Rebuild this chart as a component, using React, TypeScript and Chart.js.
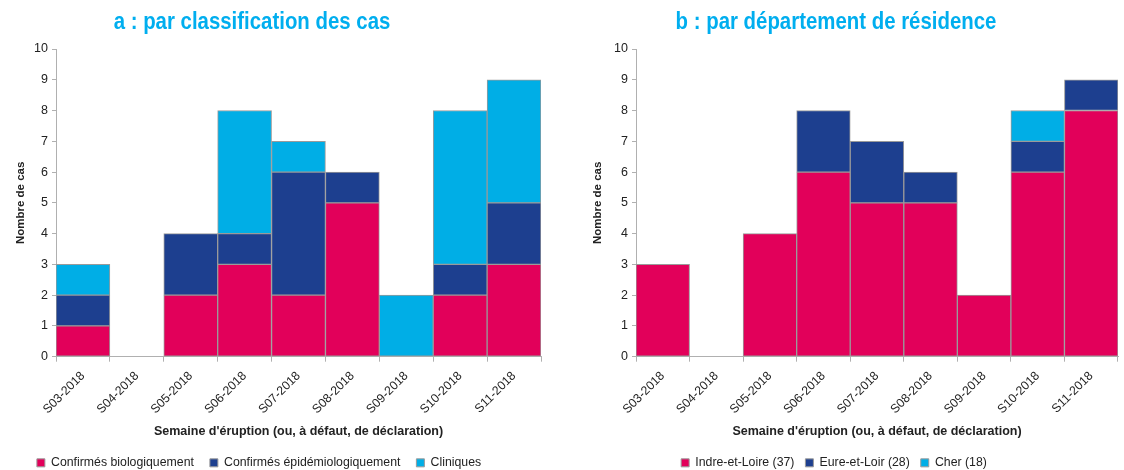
import React, { useEffect, useRef } from "react";
import { Chart, registerables } from "chart.js";

Chart.register(...registerables);

const weeks = ["S03-2018", "S04-2018", "S05-2018", "S06-2018", "S07-2018", "S08-2018", "S09-2018", "S10-2018", "S11-2018"];

const confBio = [1, 0, 2, 3, 2, 5, 0, 2, 3];
const confEpi = [1, 0, 2, 1, 4, 1, 0, 1, 2];
const cliniques = [1, 0, 0, 4, 1, 0, 2, 5, 4];

const indre = [3, 0, 4, 6, 5, 5, 2, 6, 8];
const eure = [0, 0, 0, 2, 2, 1, 0, 1, 1];
const cher = [0, 0, 0, 0, 0, 0, 0, 1, 0];

const yTicks = [0, 1, 2, 3, 4, 5, 6, 7, 8, 9, 10];

const PINK = "#E2005A";
const NAVY = "#1D3F8F";
const CYAN = "#00AEE6";
const FONT = '"Liberation Sans", Arial, sans-serif';

// Narrow bold title (condensed look) + legend shift
const panelPlugin = {
  id: "panel",
  afterLayout(chart: any, _args: any, opts: any) {
    const l = chart.legend;
    if (l) {
      l.left += opts.legendX || 0;
      l.right += opts.legendX || 0;
      l.top += opts.legendY || 0;
      l.bottom += opts.legendY || 0;
    }
  },
  afterDraw(chart: any, _args: any, opts: any) {
    const ctx = chart.ctx;
    ctx.save();
    ctx.font = `bold 24px ${FONT}`;
    ctx.fillStyle = "#00AEEF";
    ctx.textAlign = "center";
    ctx.textBaseline = "alphabetic";
    ctx.translate(opts.titleCx, opts.titleBase);
    ctx.scale(0.85, 1);
    ctx.fillText(opts.title, 0, 0);
    ctx.restore();
  },
};

type Series = { label: string; data: number[]; color: string };

function Panel(props: {
  title: string;
  series: Series[];
  left: number;
  width: number;
  padLeft: number;
  padRight: number;
  yWidth: number;
  titleCx: number;
  legendX: number;
  legendPad: number;
}) {
  const ref = useRef<HTMLCanvasElement>(null);
  useEffect(() => {
    const ctx = ref.current!;
    const P = props.legendPad;
    const chart = new Chart(ctx, {
      type: "bar",
      data: {
        labels: weeks,
        datasets: props.series.map((s) => ({
          label: s.label,
          data: s.data.map((v) => (v === 0 ? null : v)),
          backgroundColor: s.color,
          borderColor: "#9a9a9a",
          borderWidth: 1,
          borderSkipped: false,
          categoryPercentage: 1,
          barPercentage: 1,
        })),
      },
      plugins: [panelPlugin],
      options: {
        animation: false,
        responsive: false,
        maintainAspectRatio: false,
        layout: { padding: { left: props.padLeft, right: props.padRight, top: 49, bottom: 11 - P } },
        plugins: {
          panel: { title: props.title, titleCx: props.titleCx, titleBase: 29, legendX: props.legendX, legendY: 20 - P },
          title: { display: false },
          legend: {
            position: "bottom",
            labels: {
              boxWidth: 8,
              boxHeight: 8,
              padding: P,
              color: "#222",
              font: { family: FONT, size: 12.3 },
            },
          },
          tooltip: { enabled: false },
        } as any,
        scales: {
          x: {
            stacked: true,
            afterFit: (s: any) => {
              s.height = 80;
            },
            grid: {
              display: true,
              offset: true,
              drawOnChartArea: false,
              drawTicks: true,
              tickLength: 5,
              color: "#b0b0b0",
            },
            border: { display: true, color: "#b0b0b0" },
            ticks: {
              minRotation: 45,
              maxRotation: 45,
              color: "#222",
              padding: 7,
              font: { family: FONT, size: 12.3 },
            },
            title: {
              display: true,
              text: "Semaine d'éruption (ou, à défaut, de déclaration)",
              color: "#222",
              font: { family: FONT, size: 12.5, weight: "bold" },
              padding: { top: 4, bottom: -2 },
            },
          },
          y: {
            stacked: true,
            min: 0,
            max: 10,
            afterFit: (s: any) => {
              s.width = props.yWidth;
            },
            afterBuildTicks: (s: any) => {
              s.ticks = yTicks.map((v) => ({ value: v }));
            },
            grid: {
              display: true,
              drawOnChartArea: false,
              drawTicks: true,
              tickLength: 4,
              color: "#b0b0b0",
            },
            border: { display: true, color: "#b0b0b0" },
            ticks: {
              color: "#222",
              padding: 4,
              font: { family: FONT, size: 12.5 },
            },
            title: {
              display: true,
              text: "Nombre de cas",
              color: "#222",
              font: { family: FONT, size: 11.5, weight: "bold" },
              padding: { top: 4, bottom: 4 },
            },
          },
        },
      } as any,
    });
    return () => chart.destroy();
  }, []);
  return (
    <canvas
      ref={ref}
      width={props.width}
      height={470}
      style={{ position: "absolute", left: props.left, top: 0, width: props.width, height: 470 }}
    />
  );
}

export default function App() {
  const seriesA: Series[] = [
    { label: "Confirmés biologiquement", data: confBio, color: PINK },
    { label: "Confirmés épidémiologiquement", data: confEpi, color: NAVY },
    { label: "Cliniques", data: cliniques, color: CYAN },
  ];
  const seriesB: Series[] = [
    { label: "Indre-et-Loire (37)", data: indre, color: PINK },
    { label: "Eure-et-Loir (28)", data: eure, color: NAVY },
    { label: "Cher (18)", data: cher, color: CYAN },
  ];
  return (
    <div style={{ position: "absolute", left: 0, top: 0, width: 1124, height: 470, background: "#fff" }}>
      <Panel title="a : par classification des cas" series={seriesA} left={0} width={562} padLeft={10} padRight={21} yWidth={46} titleCx={252} legendX={-16.5} legendPad={16} />
      <Panel title="b : par département de résidence" series={seriesB} left={562} width={562} padLeft={25} padRight={6} yWidth={49} titleCx={274} legendX={-18.5} legendPad={11} />
    </div>
  );
}
